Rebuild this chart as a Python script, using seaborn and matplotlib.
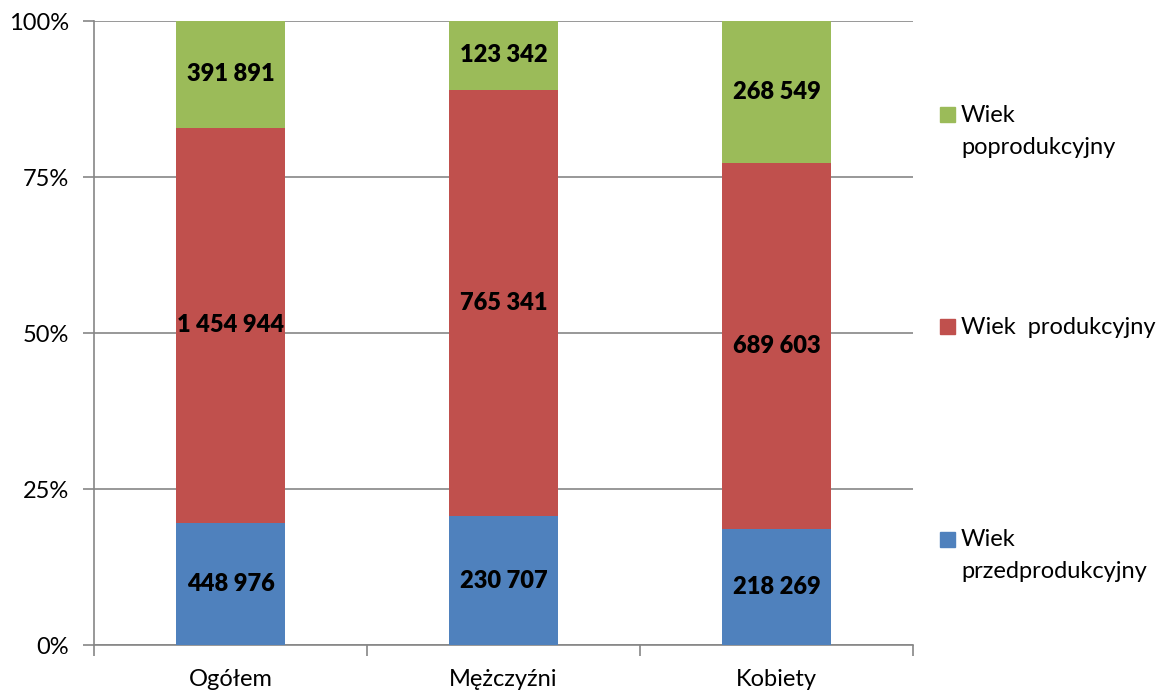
import matplotlib
matplotlib.use("Agg")
import matplotlib.pyplot as plt
import seaborn as sns
import pandas as pd
import numpy as np
from matplotlib.patches import Rectangle

categories = ["Ogółem", "Mężczyźni", "Kobiety"]
przed = [448976, 230707, 218269]
prod = [1454944, 765341, 689603]
poprod = [391891, 123342, 268549]
yticks = [0, 25, 50, 75, 100]
ytick_labels = ["0%", "25%", "50%", "75%", "100%"]

c_blue, c_red, c_green = "#4F81BD", "#C0504D", "#9BBB59"
grid_c = "#868686"

sns.set_theme(style="white")
plt.rcParams["font.family"] = ["Lato", "DejaVu Sans"]

totals = np.array(przed) + np.array(prod) + np.array(poprod)
p_blue = np.array(przed) / totals * 100
p_red = np.array(prod) / totals * 100
p_green = np.array(poprod) / totals * 100

df = pd.DataFrame({"cat": categories,
                   "top": p_blue + p_red + p_green,
                   "mid": p_blue + p_red,
                   "bot": p_blue})

fig = plt.figure(figsize=(11.63, 6.91), dpi=100)
ax = fig.add_axes([94/1163, 46/691, (913-94)/1163, (645-21)/691])

for col, c in [("top", c_green), ("mid", c_red), ("bot", c_blue)]:
    sns.barplot(data=df, x="cat", y=col, color=c, width=0.4, ax=ax,
                saturation=1, edgecolor="none", linewidth=0, zorder=3)

FS = 17
ax.set_xlim(-0.5, 2.5)
ax.set_ylim(0, 100)
ax.set_yticks(yticks)
ax.set_yticklabels(ytick_labels, fontsize=FS, color="black")
ax.set_xticks(range(3))
ax.set_xticklabels(categories, fontsize=FS, color="black")
ax.set_xticks([-0.5, 0.5, 1.5, 2.5], minor=True)
ax.tick_params(axis="x", which="major", length=0, pad=17)
ax.tick_params(axis="x", which="minor", length=8, width=1.2, color=grid_c, direction="out", bottom=True)
ax.tick_params(axis="y", length=8, width=1.2, color=grid_c, direction="out", left=True, pad=10)
ax.set_xlabel("")
ax.set_ylabel("")
ax.yaxis.grid(True, color=grid_c, linewidth=1.2, zorder=0)
ax.set_axisbelow(True)
for s in ["top", "right"]:
    ax.spines[s].set_visible(False)
for s in ["left", "bottom"]:
    ax.spines[s].set_color(grid_c)
    ax.spines[s].set_linewidth(1.2)

def fmt(v):
    return f"{v:,}".replace(",", " ")

for i in range(3):
    segs = [(0, p_blue[i], przed[i]),
            (p_blue[i], p_blue[i] + p_red[i], prod[i]),
            (p_blue[i] + p_red[i], 100, poprod[i])]
    for lo, hi, v in segs:
        ax.text(i, (lo + hi) / 2, fmt(v), ha="center", va="center",
                fontsize=17, fontweight="heavy", color="black", zorder=5)

# legend
W, H = 1163, 691
leg = [(c_green, ["Wiek", "poprodukcyjny"], 115),
       (c_red, ["Wiek  produkcyjny"], 327),
       (c_blue, ["Wiek", "przedprodukcyjny"], 540)]
for c, lines, yc in leg:
    fig.patches.append(Rectangle((940/W, 1 - (yc + 7)/H), 15/W, 15/H,
                                 transform=fig.transFigure, color=c, figure=fig))
    for k, t in enumerate(lines):
        fig.text(961/W, 1 - (yc + k*32)/H, t, ha="left", va="center",
                 fontsize=FS, color="black")

fig.savefig("out.png", dpi=100)
